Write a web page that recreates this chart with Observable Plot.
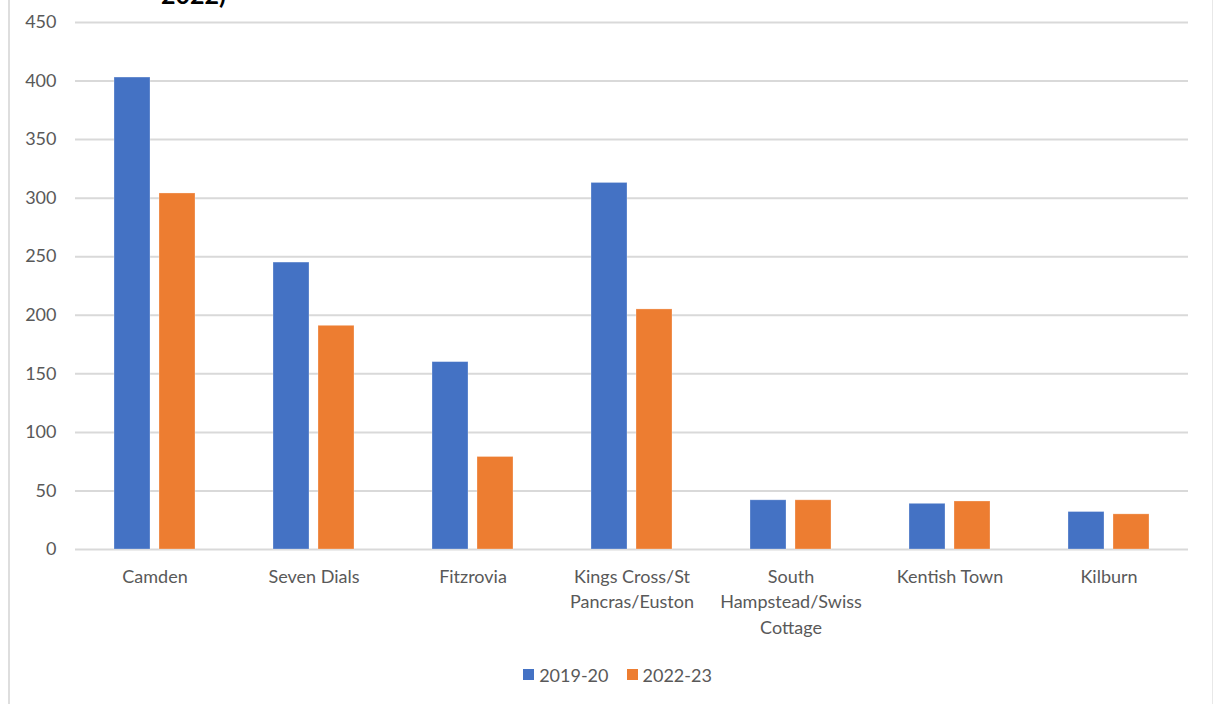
<!DOCTYPE html>
<html>
<head>
<meta charset="utf-8">
<script src="https://cdn.jsdelivr.net/npm/d3@7"></script>
<script src="https://cdn.jsdelivr.net/npm/@observablehq/plot@0.6"></script>
<style>
  html, body { margin: 0; padding: 0; background: #fff; }
  #wrap { position: relative; width: 1215px; height: 704px; overflow: hidden; font-family: Lato, "Open Sans", sans-serif; }
  #lborder { position: absolute; left: 8px; top: 0; width: 2px; height: 704px; background: #dedede; }
  #rborder { position: absolute; left: 1212px; top: 0; width: 1px; height: 704px; background: #e8e8e8; }
  #title { position: absolute; left: 161px; top: -18px; font: bold 25px Lato, sans-serif; line-height: 25px; color: #000; white-space: nowrap; }
  #chart { position: absolute; left: 0; top: 0; }
  #legend { position: absolute; left: 0; top: 662px; width: 1235px; text-align: center; font-size: 18px; color: #595959; }
  #legend span.item { display: inline-flex; align-items: center; margin: 0 9px; }
  #legend span.sw { display: inline-block; width: 11px; height: 11px; margin-right: 5px; }
</style>
</head>
<body>
<div id="wrap">
  <div id="lborder"></div>
  <div id="rborder"></div>
  <div id="title">2022)</div>
  <div id="chart"></div>
  <div id="legend"></div>
</div>
<script>
const areas = ["Camden", "Seven Dials", "Fitzrovia", "Kings Cross/St\nPancras/Euston", "South\nHampstead/Swiss\nCottage", "Kentish Town", "Kilburn"];
const periods = ["2019-20", "2022-23"];
const values2019 = [403, 245, 160, 313, 42, 39, 32];
const values2022 = [304, 191, 79, 205, 42, 41, 30];
const colors = ["#4472C4", "#ED7D31"];
const yTicks = [0, 50, 100, 150, 200, 250, 300, 350, 400, 450];

const data = [];
areas.forEach((a, i) => {
  data.push({area: a, period: periods[0], value: values2019[i]});
  data.push({area: a, period: periods[1], value: values2022[i]});
});

const chart = Plot.plot({
  width: 1215,
  height: 650,
  marginLeft: 73,
  marginRight: 25,
  marginTop: 22,
  marginBottom: 101,
  style: {fontFamily: "Lato, 'Open Sans', sans-serif", fontSize: "18px", color: "#595959", background: "transparent"},
  fx: {domain: areas, paddingInner: 0, paddingOuter: 0, label: null},
  x: {domain: periods, paddingInner: 0.2, paddingOuter: 0.85, axis: null},
  y: {domain: [0, 450], label: null},
  color: {domain: periods, range: colors},
  marks: [
    Plot.gridY(yTicks, {stroke: "#d9d9d9", strokeOpacity: 1, strokeWidth: 2}),
    Plot.barY(data, {fx: "area", x: "period", y: "value", fill: "period", stroke: "#ffffff", strokeOpacity: 0.35, strokeWidth: 0.8}),
    Plot.axisY(yTicks, {tickSize: 0, tickPadding: 19, fill: "#595959", fontSize: 18, label: null}),
    Plot.axisFx({anchor: "bottom", tickSize: 0, tickPadding: 15, lineHeight: 1.42, fill: "#595959", fontSize: 18, label: null})
  ]
});
document.getElementById("chart").appendChild(chart);

const legend = document.getElementById("legend");
periods.forEach((p, i) => {
  const item = document.createElement("span");
  item.className = "item";
  const sw = document.createElement("span");
  sw.className = "sw";
  sw.style.background = colors[i];
  item.appendChild(sw);
  item.appendChild(document.createTextNode(p));
  legend.appendChild(item);
});
</script>
</body>
</html>
